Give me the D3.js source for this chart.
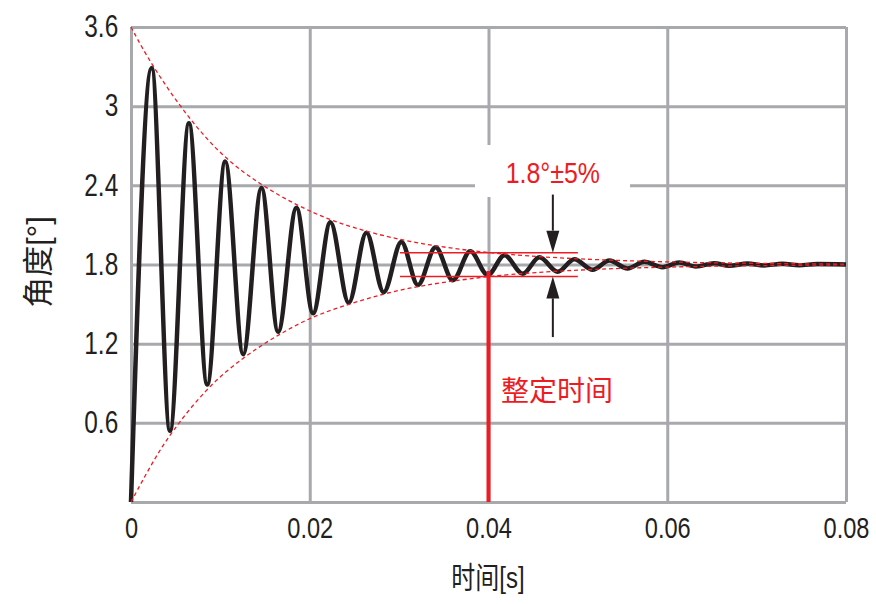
<!DOCTYPE html>
<html><head><meta charset="utf-8">
<script src="https://cdn.jsdelivr.net/npm/d3@7/dist/d3.min.js"></script>
<style>
body{margin:0;background:#fff}
text{font-family:"Liberation Sans",Arial,"Noto Sans CJK SC",sans-serif}
.cjk{font-family:"Liberation Sans","Noto Sans CJK SC",sans-serif}
</style></head><body>
<svg id="c" width="876" height="604"></svg>
<script>
// ---- data ----
const xTicks = [0, 0.02, 0.04, 0.06, 0.08];
const xTickLabels = ["0", "0.02", "0.04", "0.06", "0.08"];
const yTicks = [0, 0.6, 1.2, 1.8, 2.4, 3, 3.6];
const yTickLabels = ["", "0.6", "1.2", "1.8", "2.4", "3", "3.6"];

// response curve: extrema (time s, angle deg)
const respT = [0, 0.00231, 0.00436, 0.00648, 0.00853, 0.01054, 0.01255, 0.01460, 0.01646, 0.01851,
  0.02037, 0.02231, 0.02436, 0.02634, 0.02827, 0.03025, 0.03210, 0.03408, 0.03601, 0.03796,
  0.03992, 0.04179, 0.04383, 0.04570, 0.04774, 0.04961, 0.05165, 0.05352, 0.05556, 0.05743,
  0.05947, 0.06134, 0.06321, 0.06525, 0.06693, 0.06897, 0.07084, 0.07288, 0.07475, 0.07679, 0.08];
const respV = [0, 3.29, 0.54, 2.87, 0.89, 2.58, 1.12, 2.38, 1.29, 2.23,
  1.43, 2.12, 1.51, 2.04, 1.59, 1.97, 1.645, 1.93, 1.68, 1.90,
  1.72, 1.87, 1.73, 1.855, 1.745, 1.84, 1.76, 1.83, 1.77, 1.82,
  1.78, 1.815, 1.785, 1.81, 1.79, 1.807, 1.793, 1.805, 1.795, 1.803, 1.80];

// envelopes
const upperT = [0, 0.0023, 0.0065, 0.0105, 0.0146, 0.0185, 0.0223, 0.0263, 0.0303, 0.0341, 0.038, 0.042, 0.05, 0.06, 0.07, 0.08];
const upperV = [3.6, 3.31, 2.90, 2.60, 2.40, 2.25, 2.135, 2.05, 1.985, 1.94, 1.905, 1.875, 1.84, 1.818, 1.808, 1.803];
const lowerT = [0, 0.0023, 0.0044, 0.0085, 0.0126, 0.0165, 0.0204, 0.0244, 0.0283, 0.0321, 0.036, 0.04, 0.045, 0.052, 0.06, 0.07, 0.08];
const lowerV = [0, 0.29, 0.52, 0.87, 1.10, 1.27, 1.41, 1.50, 1.58, 1.635, 1.675, 1.71, 1.74, 1.765, 1.782, 1.792, 1.797];

// tolerance band and settling time
const bandHi = 1.89, bandLo = 1.71;
const bandT = [0.0301, 0.0500];
const settleT = 0.04;
const settleTop = 1.75;
const arrowT = 0.0472;
const arrowUpFrom = 2.33, arrowDownTo = 1.25;
const bandLabel = "1.8°±5%";
const settleLabel = "整定时间";
const xTitle = "时间[s]";
const yTitle = "角度[°]";

// ---- layout ----
const L = 131, R = 846, T = 27, B = 502;
const SX = 0.8; // condensed text factor
const grey = "#a7a9ac", red = "#ed1c24", black = "#231f20";

const svg = d3.select("#c");
const x = d3.scaleLinear().domain([0, 0.08]).range([L, R]);
const y = d3.scaleLinear().domain([0, 3.6]).range([B, T]);

// grid + axes
const gx = svg.append("g").attr("transform", `translate(0,${B})`)
  .call(d3.axisBottom(x).tickValues(xTicks).tickSize(-(B - T)).tickPadding(15)
    .tickFormat((d, i) => xTickLabels[i]));
const gy = svg.append("g").attr("transform", `translate(${L},0)`)
  .call(d3.axisLeft(y).tickValues(yTicks).tickSize(-(R - L)).tickPadding(16)
    .tickFormat((d, i) => yTickLabels[i]));
[gx, gy].forEach(g => {
  g.select(".domain").remove();
  g.selectAll(".tick line").attr("stroke", grey).attr("stroke-width", 3);
  g.selectAll(".tick text").attr("fill", black).attr("transform", `scale(${SX},1)`);
});
gx.selectAll(".tick text").style("font-size", "29.5px");
gy.selectAll(".tick text").style("font-size", "30.5px");

// white box behind band label
svg.append("rect").attr("x", 475).attr("y", 145).attr("width", 155).attr("height", 52).attr("fill", "#fff");

// response curve
const line = d3.line().x(d => x(d[0])).y(d => y(d[1])).curve(d3.curveMonotoneX);
svg.append("path").datum(respT.map((t, i) => [t, respV[i]]))
  .attr("d", line).attr("fill", "none").attr("stroke", black).attr("stroke-width", 4.5)
  .attr("stroke-linejoin", "round");

// envelopes
const envLine = d3.line().x(d => x(d[0])).y(d => y(d[1])).curve(d3.curveBasis);
[[upperT, upperV], [lowerT, lowerV]].forEach(([ts, vs]) => {
  svg.append("path").datum(ts.map((t, i) => [t, vs[i]]))
    .attr("d", envLine).attr("fill", "none").attr("stroke", red).attr("stroke-width", 1.3)
    .attr("stroke-dasharray", "4,3");
});

// band lines
[bandHi, bandLo].forEach(v => {
  svg.append("line").attr("x1", x(bandT[0])).attr("x2", x(bandT[1]))
    .attr("y1", y(v)).attr("y2", y(v)).attr("stroke", red).attr("stroke-width", 1.5);
});

// settling line
svg.append("line").attr("x1", x(settleT)).attr("x2", x(settleT))
  .attr("y1", y(settleTop)).attr("y2", B).attr("stroke", red).attr("stroke-width", 4);

// arrows
const ax = x(arrowT);
function arrow(fromV, toV) {
  const y0 = y(fromV), y1 = y(toV);
  const dir = Math.sign(y1 - y0);
  const headLen = 22, headW = 6.5;
  svg.append("line").attr("x1", ax).attr("x2", ax).attr("y1", y0).attr("y2", y1 - dir * headLen)
    .attr("stroke", black).attr("stroke-width", 2);
  svg.append("path").attr("d",
    `M${ax},${y1} L${ax - headW},${y1 - dir * headLen} L${ax + headW},${y1 - dir * headLen} Z`)
    .attr("fill", black);
}
arrow(arrowUpFrom, bandHi);
arrow(arrowDownTo, bandLo);

// labels
svg.append("g").attr("transform", `translate(${ax},183) scale(0.86,1)`)
  .append("text").attr("text-anchor", "middle")
  .attr("fill", red).style("font-size", "29px").text(bandLabel);
svg.append("text").attr("class", "cjk").attr("x", 501).attr("y", 401)
  .attr("fill", red).style("font-size", "28px").text(settleLabel);

svg.append("g").attr("transform", `translate(488,578) scale(${SX},1)`)
  .append("text").attr("class", "cjk").attr("text-anchor", "middle").attr("dominant-baseline", "central")
  .attr("fill", black).style("font-size", "30px").text(xTitle);
svg.append("text").attr("class", "cjk").attr("transform", "translate(38,262) rotate(-90)")
  .attr("text-anchor", "middle").attr("dominant-baseline", "central")
  .attr("fill", black).style("font-size", "31px").text(yTitle);
</script>
</body></html>
